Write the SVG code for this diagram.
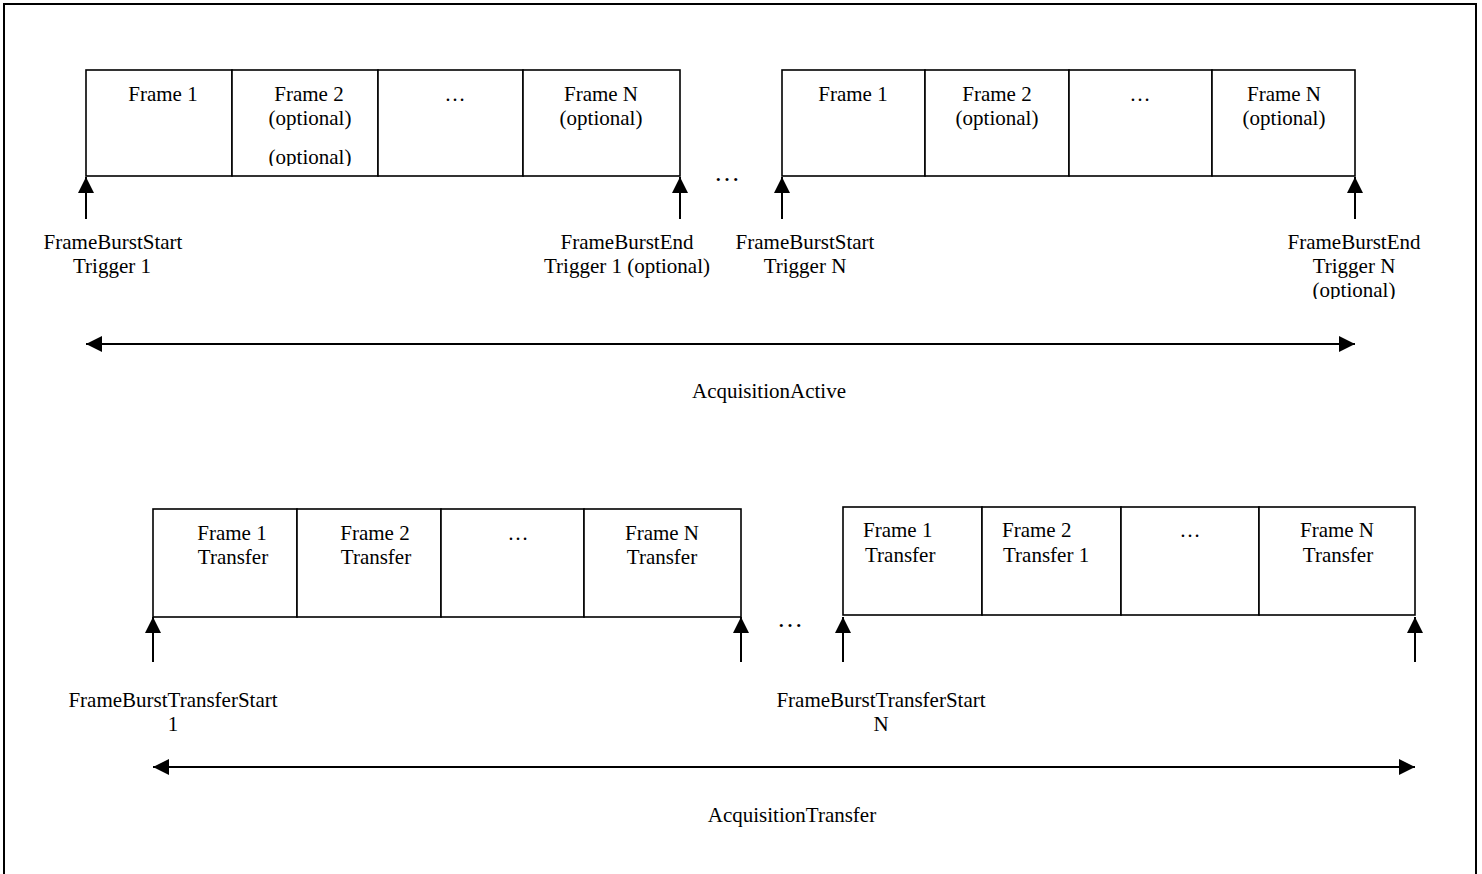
<svg xmlns="http://www.w3.org/2000/svg" width="1482" height="874" viewBox="0 0 1482 874">
<style>
.cell{fill:#fff;stroke:#000;stroke-width:1.6}
.t{font-family:"Liberation Serif","Times New Roman",serif;font-size:21px;fill:#000;text-anchor:middle}
.ts{font-family:"Liberation Serif","Times New Roman",serif;font-size:21px;fill:#000;text-anchor:start}
.dots{font-family:"Liberation Serif","Times New Roman",serif;font-size:26px;fill:#000;text-anchor:middle}
.conn{stroke:#000;stroke-width:2;fill:none}
</style>
<defs>
<marker id="ah" viewBox="0 0 16 16" refX="16" refY="8" markerWidth="16" markerHeight="16" markerUnits="userSpaceOnUse" orient="auto-start-reverse">
<path d="M0,0 L16,8 L0,16 Z" fill="#000"/>
</marker>
<clipPath id="clipF2"><rect x="232" y="70" width="146" height="96"/></clipPath>
<clipPath id="clipOpt"><rect x="1250" y="225" width="220" height="74"/></clipPath>
</defs>
<rect x="4" y="4" width="1472" height="880" fill="#fff" stroke="#000" stroke-width="2"/>

<g id="active-burst1">
<g id="a1-frame1"><rect class="cell" x="86" y="70" width="146" height="106"/><text class="t" x="163" y="101">Frame 1</text></g>
<g id="a1-frame2"><rect class="cell" x="232" y="70" width="146" height="106"/><text class="t" x="309" y="101">Frame 2</text><text class="t" x="310" y="125">(optional)</text><text class="t" x="310" y="164" clip-path="url(#clipF2)">(optional)</text></g>
<g id="a1-dots"><rect class="cell" x="378" y="70" width="145" height="106"/><text class="t" x="455" y="101">…</text></g>
<g id="a1-frameN"><rect class="cell" x="523" y="70" width="157" height="106"/><text class="t" x="601" y="101">Frame N</text><text class="t" x="601" y="125">(optional)</text></g>
</g>

<g id="active-burstN">
<g id="aN-frame1"><rect class="cell" x="782" y="70" width="143" height="106"/><text class="t" x="853" y="101">Frame 1</text></g>
<g id="aN-frame2"><rect class="cell" x="925" y="70" width="144" height="106"/><text class="t" x="997" y="101">Frame 2</text><text class="t" x="997" y="125">(optional)</text></g>
<g id="aN-dots"><rect class="cell" x="1069" y="70" width="143" height="106"/><text class="t" x="1140" y="101">…</text></g>
<g id="aN-frameN"><rect class="cell" x="1212" y="70" width="143" height="106"/><text class="t" x="1284" y="101">Frame N</text><text class="t" x="1284" y="125">(optional)</text></g>
</g>

<g id="gap-top"><text class="dots" x="727" y="181">…</text></g>

<g id="lbl-fbs1"><text class="t" x="113" y="249">FrameBurstStart</text><text class="t" x="112" y="273">Trigger 1</text></g>
<g id="lbl-fbe1"><text class="t" x="627" y="249">FrameBurstEnd</text><text class="t" x="627" y="273">Trigger 1 (optional)</text></g>
<g id="lbl-fbsN"><text class="t" x="805" y="249">FrameBurstStart</text><text class="t" x="805" y="273">Trigger N</text></g>
<g id="lbl-fbeN"><text class="t" x="1354" y="249">FrameBurstEnd</text><text class="t" x="1354" y="273">Trigger N</text><text class="t" x="1354" y="297" clip-path="url(#clipOpt)">(optional)</text></g>

<g id="lbl-active"><text class="t" x="769" y="398">AcquisitionActive</text></g>

<g id="transfer-burst1">
<g id="t1-frame1"><rect class="cell" x="153" y="509" width="144" height="108"/><text class="t" x="232" y="540">Frame 1</text><text class="t" x="233" y="564">Transfer</text></g>
<g id="t1-frame2"><rect class="cell" x="297" y="509" width="144" height="108"/><text class="t" x="375" y="540">Frame 2</text><text class="t" x="376" y="564">Transfer</text></g>
<g id="t1-dots"><rect class="cell" x="441" y="509" width="143" height="108"/><text class="t" x="518" y="540">…</text></g>
<g id="t1-frameN"><rect class="cell" x="584" y="509" width="157" height="108"/><text class="t" x="662" y="540">Frame N</text><text class="t" x="662" y="564">Transfer</text></g>
</g>

<g id="transfer-burstN">
<g id="tN-frame1"><rect class="cell" x="843" y="507" width="139" height="108"/><text class="ts" x="863" y="537">Frame 1</text><text class="ts" x="865" y="562">Transfer</text></g>
<g id="tN-frame2"><rect class="cell" x="982" y="507" width="139" height="108"/><text class="ts" x="1002" y="537">Frame 2</text><text class="ts" x="1003" y="562">Transfer 1</text></g>
<g id="tN-dots"><rect class="cell" x="1121" y="507" width="138" height="108"/><text class="t" x="1190" y="537">…</text></g>
<g id="tN-frameN"><rect class="cell" x="1259" y="507" width="156" height="108"/><text class="t" x="1337" y="537">Frame N</text><text class="t" x="1338" y="562">Transfer</text></g>
</g>

<g id="gap-bottom"><text class="dots" x="790" y="627">…</text></g>

<g id="lbl-fbts1"><text class="t" x="173" y="707">FrameBurstTransferStart</text><text class="t" x="173" y="731">1</text></g>
<g id="lbl-fbtsN"><text class="t" x="881" y="707">FrameBurstTransferStart</text><text class="t" x="881" y="731">N</text></g>

<g id="lbl-transfer"><text class="t" x="792" y="822">AcquisitionTransfer</text></g>

<g id="connectors">
<line class="conn" x1="86" y1="219" x2="86" y2="177" marker-end="url(#ah)"/>
<line class="conn" x1="680" y1="219" x2="680" y2="177" marker-end="url(#ah)"/>
<line class="conn" x1="782" y1="219" x2="782" y2="177" marker-end="url(#ah)"/>
<line class="conn" x1="1355" y1="219" x2="1355" y2="177" marker-end="url(#ah)"/>
<line class="conn" x1="86" y1="344" x2="1355" y2="344" marker-start="url(#ah)" marker-end="url(#ah)"/>
<line class="conn" x1="153" y1="662" x2="153" y2="617" marker-end="url(#ah)"/>
<line class="conn" x1="741" y1="662" x2="741" y2="617" marker-end="url(#ah)"/>
<line class="conn" x1="843" y1="662" x2="843" y2="617" marker-end="url(#ah)"/>
<line class="conn" x1="1415" y1="662" x2="1415" y2="617" marker-end="url(#ah)"/>
<line class="conn" x1="153" y1="767" x2="1415" y2="767" marker-start="url(#ah)" marker-end="url(#ah)"/>
</g>
</svg>
